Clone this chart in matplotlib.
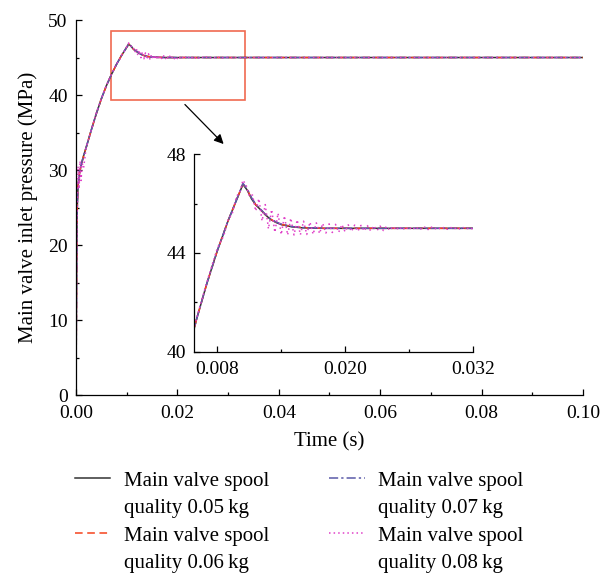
import matplotlib
matplotlib.use("Agg")
import matplotlib.pyplot as plt
from matplotlib.lines import Line2D
from matplotlib.patches import Rectangle
from matplotlib.ticker import MultipleLocator, FixedLocator, FormatStrFormatter

plt.rcParams["font.family"] = ["Liberation Serif", "DejaVu Serif"]

# time axis shared by the three smooth responses (s)
t_smooth = [0, 0.0001, 0.0002, 0.0004, 0.0007, 0.001, 0.0015, 0.002, 0.003, 0.004,
            0.005, 0.006, 0.007, 0.008, 0.009, 0.0098, 0.0104, 0.0108, 0.0112, 0.0116,
            0.012, 0.0125, 0.013, 0.0135, 0.014, 0.015, 0.016, 0.018, 0.02, 0.1]
p_005 = [0, 14, 24, 27.8, 29.6, 30.6, 31.9, 33.0, 35.3, 37.5,
         39.5, 41.25, 42.75, 44.1, 45.3, 46.15, 46.78, 46.55, 46.2, 45.95,
         45.78, 45.55, 45.36, 45.24, 45.15, 45.06, 45.02, 45.0, 45.0, 45.0]
p_006 = [0, 14.5, 24.3, 27.9, 29.7, 30.6, 31.9, 33.0, 35.3, 37.5,
         39.5, 41.25, 42.75, 44.1, 45.3, 46.15, 46.8, 46.58, 46.22, 45.96,
         45.79, 45.56, 45.37, 45.25, 45.16, 45.07, 45.03, 45.0, 45.0, 45.0]
p_007 = [0, 15, 24.6, 28.0, 29.7, 30.7, 31.9, 33.0, 35.3, 37.5,
         39.5, 41.25, 42.75, 44.1, 45.3, 46.15, 46.82, 46.6, 46.25, 45.98,
         45.8, 45.57, 45.38, 45.26, 45.17, 45.07, 45.03, 45.0, 45.0, 45.0]

# 0.08 kg spool oscillates around the others
t_008 = [0, 0.0001, 0.0002, 0.0004, 0.0006, 0.0008, 0.001, 0.0012, 0.0015, 0.002,
         0.003, 0.004, 0.005, 0.006, 0.007, 0.008, 0.0086, 0.009, 0.0094, 0.0098,
         0.0101, 0.0104,
         0.0107, 0.0110, 0.0113, 0.0116, 0.0119, 0.0122, 0.0125, 0.0128, 0.0131, 0.0134,
         0.0137, 0.0140, 0.0143, 0.0146, 0.0149, 0.0152, 0.0155, 0.0158, 0.0161, 0.0164,
         0.0167, 0.0170, 0.0173, 0.0176, 0.0179, 0.0182, 0.0185, 0.0188, 0.0191, 0.0194,
         0.0197, 0.0200, 0.0203, 0.0206, 0.0209, 0.0212, 0.0215, 0.0218, 0.0221, 0.0224,
         0.0227, 0.0230, 0.0233, 0.0236, 0.0239, 0.0242, 0.0245, 0.0248, 0.0251, 0.0254,
         0.0257, 0.0260, 0.0263, 0.0266, 0.0269, 0.0272, 0.0275, 0.0278, 0.0281, 0.0284,
         0.0287, 0.0290, 0.0293, 0.0296, 0.0299, 0.0302, 0.0305, 0.0308, 0.0311, 0.0314,
         0.0317, 0.0320, 0.035, 0.1]
p_008 = [0, 12, 22, 30.5, 27.5, 31.2, 28.6, 30.9, 30.3, 33.0,
         35.3, 37.6, 39.5, 41.3, 42.8, 44.2, 44.7, 45.35, 45.6, 46.3,
         46.45, 46.95,
         46.75, 46.3, 46.35, 45.7, 46.2, 45.3, 45.96, 44.98, 45.76, 44.84,
         45.61, 44.75, 45.5, 44.73, 45.41, 44.73, 45.34, 44.74, 45.29, 44.75,
         45.25, 44.76, 45.22, 44.79, 45.2, 44.81, 45.18, 44.83, 45.16, 44.84,
         45.15, 44.86, 45.14, 44.87, 45.13, 44.88, 45.12, 44.89, 45.11, 44.9,
         45.1, 44.91, 45.09, 44.91, 45.08, 44.92, 45.08, 44.93, 45.07, 44.93,
         45.06, 44.94, 45.06, 44.94, 45.05, 44.95, 45.05, 44.95, 45.05, 44.96,
         45.04, 44.96, 45.04, 44.96, 45.04, 44.97, 45.03, 44.97, 45.03, 44.97,
         45.03, 44.97, 45.0, 45.0]

masses = ["0.05", "0.06", "0.07", "0.08"]
colors = ["#333333", "#f5431c", "#5a5aa8", "#e040c8"]
styles = ["-", (0, (5, 3)), (0, (6, 2, 1.5, 2)), (0, (1, 2))]

fig = plt.figure(figsize=(6.1, 5.77), dpi=100)
ax = fig.add_axes([0.1246, 0.3154, 0.8311, 0.6499])
ins = fig.add_axes([0.318, 0.3905, 0.457, 0.3421])


def draw_series(a):
    hs = []
    data = [(t_smooth, p_005), (t_smooth, p_006), (t_smooth, p_007), (t_008, p_008)]
    for (tt, pp), c, ls in zip(data, colors, styles):
        h, = a.plot(tt, pp, color=c, linestyle=ls, lw=1.1)
        hs.append(h)
    return hs


def style_axes(a, xpad, ypad):
    for s in ("top", "right"):
        a.spines[s].set_visible(False)
    for s in ("left", "bottom"):
        a.spines[s].set_linewidth(0.9)
    a.tick_params(which="both", direction="in", colors="black", labelsize=14)
    a.tick_params(which="major", length=4, width=0.9)
    a.tick_params(which="minor", length=2.5, width=0.9)
    a.tick_params(axis="x", which="major", pad=xpad)
    a.tick_params(axis="y", which="major", pad=ypad)


handles = draw_series(ax)
style_axes(ax, 7.5, 6)
ax.set_xlim(0, 0.1)
ax.set_ylim(0, 50)
ax.xaxis.set_major_locator(MultipleLocator(0.02))
ax.xaxis.set_minor_locator(MultipleLocator(0.01))
ax.xaxis.set_major_formatter(FormatStrFormatter("%.2f"))
ax.yaxis.set_major_locator(MultipleLocator(10))
ax.yaxis.set_minor_locator(MultipleLocator(5))
ax.set_xlabel("Time (s)", fontsize=15, labelpad=7)
ax.set_ylabel("Main valve inlet pressure (MPa)", fontsize=15, labelpad=7)

# zoom box and pointer
ax.add_patch(Rectangle((0.0069, 39.3), 0.0264, 9.2, fill=False,
                       edgecolor="#f06a50", lw=1.2))
ax.annotate("", xy=(0.0295, 33.2), xytext=(0.0211, 39.0),
            arrowprops=dict(arrowstyle="-|>", color="black", lw=0.9,
                            mutation_scale=14))

draw_series(ins)
style_axes(ins, 7, 6)
ins.patch.set_alpha(0)
ins.set_xlim(0.0058, 0.032)
ins.set_ylim(40, 48)
ins.xaxis.set_major_locator(FixedLocator([0.008, 0.020, 0.032]))
ins.xaxis.set_minor_locator(FixedLocator([0.014, 0.026]))
ins.xaxis.set_major_formatter(FormatStrFormatter("%.3f"))
ins.yaxis.set_major_locator(FixedLocator([40, 44, 48]))
ins.yaxis.set_minor_locator(FixedLocator([42, 46]))

# each label is two lines; the second line sits beside an empty handle
blank = Line2D([], [], color="none")
leg_handles, leg_labels = [], []
for h, m in zip(handles, masses):
    leg_handles += [h, blank]
    leg_labels += ["Main valve spool", "quality " + m + "\u2009kg"]
fig.legend(handles=leg_handles, labels=leg_labels, loc="upper left",
           bbox_to_anchor=(0.092, 0.216), ncol=2, frameon=False, fontsize=15,
           handlelength=1.7, handletextpad=0.65, columnspacing=2.9,
           labelspacing=0.38)

fig.savefig("out.png", dpi=100)
